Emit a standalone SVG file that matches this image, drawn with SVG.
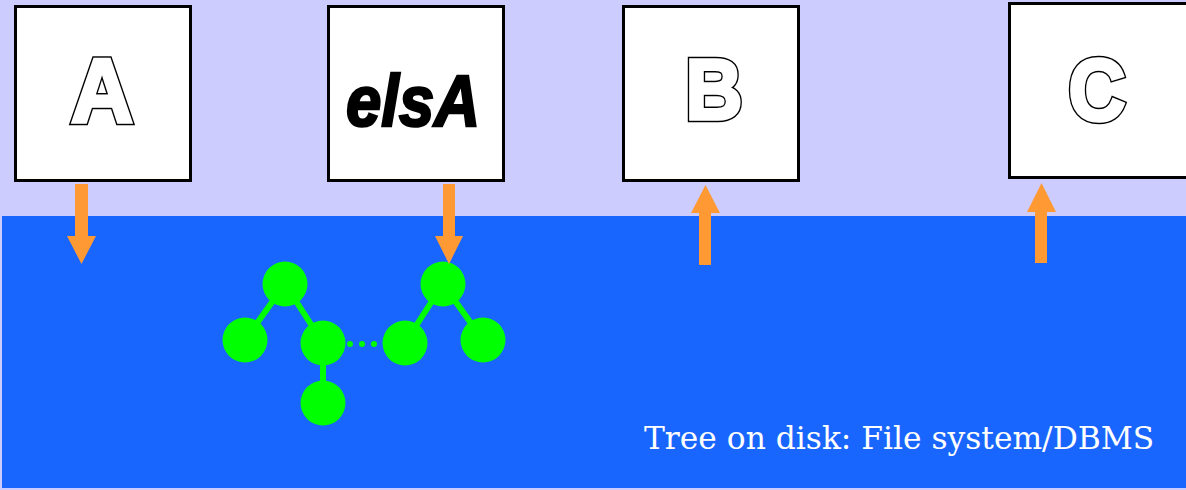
<svg xmlns="http://www.w3.org/2000/svg" width="1186" height="490" viewBox="0 0 1186 490">
  <style>
    .box { fill: #ffffff; stroke: #000000; stroke-width: 3; }
    .letter { font-family: "Liberation Sans", Arial, sans-serif; font-weight: bold; text-anchor: middle; stroke-linejoin: miter; stroke-miterlimit: 4; }
    .rim { fill: #000000; stroke: #000000; stroke-width: 6.5; }
    .face { fill: #ffffff; stroke: #ffffff; stroke-width: 3.5; }
    .solid { font-family: "Liberation Sans", Arial, sans-serif; font-weight: bold; font-style: italic; fill: #000000; stroke: #000000; stroke-width: 2.5; stroke-linejoin: miter; text-anchor: middle; }
    .arrow { fill: #ff9933; }
    .node { fill: #00ff00; }
    .edge { stroke: #00ff00; stroke-width: 6; }
    .caption { font-family: "DejaVu Serif", serif; fill: #ffffff; }
  </style>

  <!-- memory area and disk area -->
  <rect x="0" y="0" width="1186" height="490" fill="#ccccff"/>
  <rect id="disk" x="2" y="216" width="1184" height="272" fill="#1966ff"/>

  <g id="nodeA">
    <rect class="box" x="15.5" y="6.5" width="175" height="174"/>
    <text class="letter rim" x="102" y="122" font-size="90" textLength="62" lengthAdjust="spacingAndGlyphs">A</text>
    <text class="letter face" x="102" y="122" font-size="90" textLength="62" lengthAdjust="spacingAndGlyphs">A</text>
  </g>
  <g id="nodeElsA">
    <rect class="box" x="328.5" y="6.5" width="175" height="174"/>
    <text class="solid" x="413" y="126" font-size="72" textLength="134" lengthAdjust="spacingAndGlyphs">elsA</text>
  </g>
  <g id="nodeB">
    <rect class="box" x="623.5" y="6.5" width="175" height="174"/>
    <text class="letter rim" x="714" y="119" font-size="86" textLength="57" lengthAdjust="spacingAndGlyphs">B</text>
    <text class="letter face" x="714" y="119" font-size="86" textLength="57" lengthAdjust="spacingAndGlyphs">B</text>
  </g>
  <g id="nodeC">
    <rect class="box" x="1009.5" y="3.5" width="178" height="174"/>
    <text class="letter rim" x="1097" y="120" font-size="87" textLength="57" lengthAdjust="spacingAndGlyphs">C</text>
    <text class="letter face" x="1097" y="120" font-size="87" textLength="57" lengthAdjust="spacingAndGlyphs">C</text>
  </g>

  <!-- tree stored on disk -->
  <g id="tree">
    <line class="edge" x1="285" y1="284" x2="245" y2="340"/>
    <line class="edge" x1="285" y1="284" x2="323" y2="343"/>
    <line class="edge" x1="323" y1="343" x2="323" y2="403"/>
    <line class="edge" x1="443" y1="284" x2="405" y2="343"/>
    <line class="edge" x1="443" y1="284" x2="483" y2="340"/>
    <circle class="node" cx="285" cy="284" r="22.5"/>
    <circle class="node" cx="245" cy="340" r="22.5"/>
    <circle class="node" cx="323" cy="343" r="22.5"/>
    <circle class="node" cx="323" cy="403" r="22.5"/>
    <circle class="node" cx="443" cy="284" r="22.5"/>
    <circle class="node" cx="405" cy="343" r="22.5"/>
    <circle class="node" cx="483" cy="340" r="22.5"/>
    <circle class="node" cx="350" cy="344" r="3"/>
    <circle class="node" cx="362" cy="344" r="3"/>
    <circle class="node" cx="374" cy="344" r="3"/>
  </g>

  <!-- transfers between memory and disk -->
  <g id="connectors">
    <polygon class="arrow" points="75,184 88,184 88,236 96,236 81.5,264 67,236 75,236"/>
    <polygon class="arrow" points="443,184 455,184 455,236 463,236 449,264 435,236 443,236"/>
    <polygon class="arrow" points="699,265 711,265 711,213 720,213 705.5,185 691,213 699,213"/>
    <polygon class="arrow" points="1035,263 1047,263 1047,212 1056,212 1041.5,183 1027,212 1035,212"/>
  </g>

  <text class="caption" x="644" y="449" font-size="31.3">Tree on disk: File system/DBMS</text>
</svg>
